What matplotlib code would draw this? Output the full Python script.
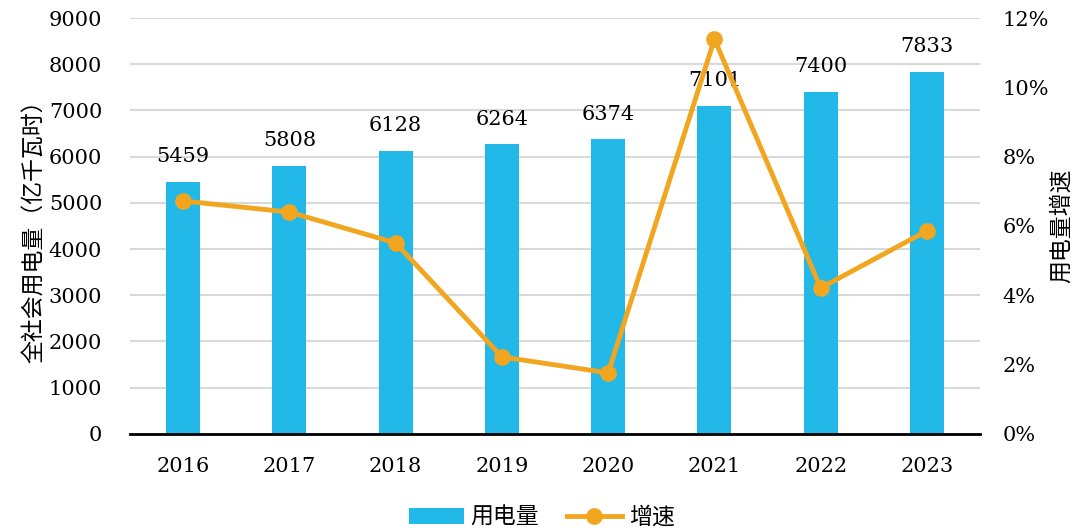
import matplotlib
matplotlib.use('Agg')
import matplotlib.pyplot as plt
import numpy as np
from matplotlib.ticker import FuncFormatter

# data
years = ['2016', '2017', '2018', '2019', '2020', '2021', '2022', '2023']
usage = [5459, 5808, 6128, 6264, 6374, 7101, 7400, 7833]  # 亿千瓦时
growth = [6.72, 6.40, 5.51, 2.22, 1.76, 11.39, 4.21, 5.86]  # %
left_ticks = [0, 1000, 2000, 3000, 4000, 5000, 6000, 7000, 8000, 9000]
right_ticks = [0, 2, 4, 6, 8, 10, 12]

bar_color = '#22B8E8'
line_color = '#F2A61F'
serif = 'DejaVu Serif'
cjk = ['Noto Sans CJK SC', 'DejaVu Sans']

fig = plt.figure(figsize=(10.83, 5.31), dpi=100)
ax = fig.add_axes([0.12, 0.183, 0.785, 0.783])
x = np.arange(len(years))

bars = ax.bar(x, usage, width=0.32, color=bar_color, zorder=2, label='用电量')
ax.set_ylim(0, 9000)
ax.set_xlim(-0.5, len(years) - 0.5)
ax.set_yticks(left_ticks)
ax.set_xticks(x)
ax.set_xticklabels(years)
ax.grid(axis='y', color='#D9D9D9', linewidth=1.5, zorder=0)
for s in ['top', 'right', 'left']:
    ax.spines[s].set_visible(False)
ax.spines['bottom'].set_color('black')
ax.spines['bottom'].set_linewidth(2)
ax.tick_params(axis='both', length=0, labelsize=15)
ax.tick_params(axis='x', pad=17)
ax.tick_params(axis='y', pad=20)
for lbl in ax.get_xticklabels() + ax.get_yticklabels():
    lbl.set_fontfamily(serif)
ax.set_ylabel('全社会用电量（亿千瓦时）', fontsize=16.5, family=cjk, labelpad=2)

# value labels above bars
for xi, v in zip(x, usage):
    ax.annotate(str(v), (xi, v), xytext=(0, 18), textcoords='offset points',
                ha='center', va='center', fontsize=15, family=serif, zorder=3)

ax2 = ax.twinx()
line, = ax2.plot(x, growth, color=line_color, linewidth=3.5, marker='o',
                 markersize=11, zorder=4, label='增速')
ax2.set_ylim(0, 12)
ax2.set_yticks(right_ticks)
ax2.yaxis.set_major_formatter(FuncFormatter(lambda v, p: '%d%%' % v))
for s in ['top', 'right', 'left', 'bottom']:
    ax2.spines[s].set_visible(False)
ax2.tick_params(axis='y', length=0, labelsize=15, pad=16)
for lbl in ax2.get_yticklabels():
    lbl.set_fontfamily(serif)
ax2.set_ylabel('用电量增速', fontsize=16.5, family=cjk, rotation=90, labelpad=1)

fig.legend(handles=[bars, line], labels=['用电量', '增速'], loc='lower center',
           bbox_to_anchor=(0.5, -0.035), ncol=2, frameon=False,
           prop={'family': cjk, 'size': 16.5}, handlelength=2.4,
           columnspacing=1.2, handletextpad=0.3)

fig.savefig('out.png', dpi=100)
